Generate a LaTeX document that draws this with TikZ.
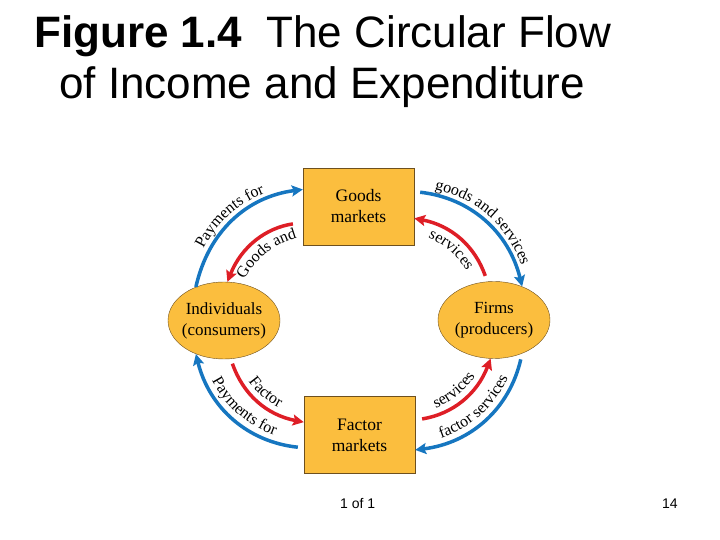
\documentclass[tikz,border=0pt]{standalone}
\usepackage{fontspec}
\setmainfont{Liberation Serif}
\newfontfamily\headfont{Liberation Sans}
\usetikzlibrary{arrows.meta,decorations.text,shapes.geometric}
\definecolor{flowblue}{RGB}{22,118,192}
\definecolor{flowred}{RGB}{222,30,38}
\definecolor{boxfill}{RGB}{251,190,62}
\definecolor{boxline}{RGB}{110,80,30}
\newcommand\flowlabel{\fontsize{16}{16}\selectfont}

\begin{document}
\begin{tikzpicture}[x=1pt,y=1pt,
    market/.style={draw=boxline,fill=boxfill,minimum width=111pt,minimum height=77pt,
        align=center,font=\fontsize{17.5}{21}\selectfont},
    agent/.style={ellipse,draw=boxline,fill=boxfill,minimum width=112pt,minimum height=77pt,
        inner xsep=-6pt,inner ysep=0pt,align=center,font=\fontsize{17}{21}\selectfont},
    money/.style={flowblue,line width=3.5pt,-{Stealth[length=11pt,width=11pt,inset=2pt]}},
    stuff/.style={flowred,line width=3.5pt,-{Stealth[length=11pt,width=11pt,inset=2pt]}},
    tag/.style={decorate,decoration={text along path,text align=center}}]
    \useasboundingbox (0,0) rectangle (720,540);
    \flowlabel
    \node[anchor=base west,inner sep=0pt,font=\headfont\fontsize{44}{44}\selectfont] (head1) at (34,492)
        {\textbf{Figure 1.4}\ \ The Circular Flow};
    \node[anchor=base west,inner sep=0pt,font=\headfont\fontsize{44}{44}\selectfont] (head2) at (59,441)
        {of Income and Expenditure};
    \node[market] (goods) at (358.5,333.5) {Goods\\markets};
    \node[market] (factor) at (359.5,105) {Factor\\markets};
    \node[agent] (ind) at (224,219.5) {Individuals\\(consumers)};
    \node[agent] (firms) at (494,220) {Firms\\(producers)};
    \draw[money] (ind.130) to[bend left=35] (goods.163);
    \path[tag,decoration={text={Payments for}}]
        ([shift={(-4,5)}]ind.130) to[bend left=35] ([shift={(-4,5)}]goods.163);
    \draw[stuff,shorten <=10pt] (goods.196) to[bend right=30] (ind.85);
    \path[tag,decoration={text={Goods and}}]
        ([shift={(10,-12)}]ind.85) to[bend left=30] ([shift={(10,-12)}]goods.196);
    \draw[money,shorten <=6pt] (goods.15) to[bend left=35] (firms.50);
    \path[tag,decoration={text={goods and services}}]
        ([shift={(4,5)}]goods.15) to[bend left=35] ([shift={(4,5)}]firms.50);
    \draw[stuff,shorten <=6pt] (firms.100) to[bend right=30] (goods.-12);
    \path[tag,decoration={text={services}}]
        ([shift={(-10,-12)}]goods.-12) to[bend left=30] ([shift={(-10,-12)}]firms.100);
    \draw[stuff,shorten <=5pt] (ind.-80) to[bend right=30] (factor.167);
    \path[tag,decoration={text={Factor}}]
        ([shift={(4,5)}]ind.-80) to[bend right=30] ([shift={(4,5)}]factor.167);
    \draw[money,shorten <=6pt] (factor.193) to[bend left=35] (ind.-130);
    \path[tag,decoration={text={Payments for}}]
        ([shift={(4,5)}]ind.-130) to[bend right=35] ([shift={(4,5)}]factor.193);
    \draw[stuff,shorten <=7pt] (factor.15) to[bend right=30] (firms.-95);
    \path[tag,decoration={text={services}}]
        ([shift={(-4,5)}]factor.15) to[bend right=30] ([shift={(-4,5)}]firms.-95);
    \draw[money,shorten <=6pt] (firms.-50) to[bend left=35] (factor.-15);
    \path[tag,decoration={text={factor services}}]
        ([shift={(-4,5)}]factor.-15) to[bend right=35] ([shift={(-4,5)}]firms.-50);
    \node[anchor=base west,inner sep=0pt,font=\headfont\fontsize{14}{14}\selectfont] (page) at (340,31) {1 of 1};
    \node[anchor=base west,inner sep=0pt,font=\headfont\fontsize{14}{14}\selectfont] (num) at (662,31) {14};
\end{tikzpicture}
\end{document}
